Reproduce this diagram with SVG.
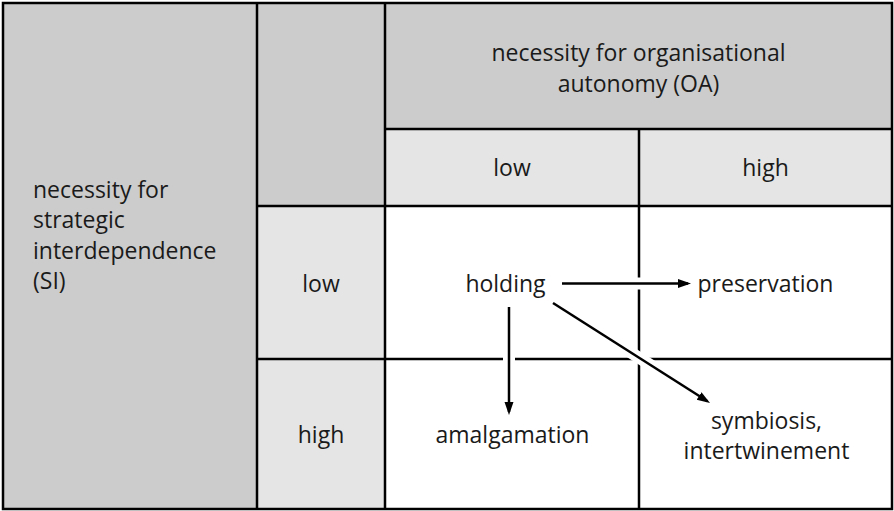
<svg xmlns="http://www.w3.org/2000/svg" width="894" height="511" viewBox="0 0 894 511">
<style>
text{font-family:"Open Sans","Noto Sans","DejaVu Sans",sans-serif;font-size:23px;fill:#1a1a1a}
.c{text-anchor:middle}
.dark{fill:#cccccc}
.light{fill:#e5e5e5}
.white{fill:#ffffff}
.grid{stroke:#000;stroke-width:2.5;fill:none}
.halo{stroke:#fff;stroke-width:12;fill:none}
.arr{stroke:#000;stroke-width:2.5;fill:none;marker-end:url(#ah)}
</style>
<defs>
<marker id="ah" markerUnits="userSpaceOnUse" markerWidth="14" markerHeight="10" refX="10" refY="4.5" orient="auto">
<path d="M0,0 L13,4.5 L0,9 z" fill="#000"/>
</marker>
</defs>
<rect x="0" y="0" width="894" height="511" fill="#fff"/>
<g id="si-label">
<rect class="dark" x="3" y="3" width="254" height="506"/>
<text x="33" y="198">necessity for</text>
<text x="33" y="228">strategic</text>
<text x="33" y="259">interdependence</text>
<text x="33" y="289">(SI)</text>
</g>
<g id="corner"><rect class="dark" x="257" y="3" width="128" height="203"/></g>
<g id="oa-label">
<rect class="dark" x="385" y="3" width="507" height="126"/>
<text class="c" x="638.5" y="61">necessity for organisational</text>
<text class="c" x="638.5" y="92">autonomy (OA)</text>
</g>
<g id="col-low"><rect class="light" x="385" y="129" width="254" height="77"/><text class="c" x="512" y="176">low</text></g>
<g id="col-high"><rect class="light" x="639" y="129" width="253" height="77"/><text class="c" x="765.5" y="176">high</text></g>
<g id="row-low"><rect class="light" x="257" y="206" width="128" height="153"/><text class="c" x="321" y="292">low</text></g>
<g id="row-high"><rect class="light" x="257" y="359" width="128" height="150"/><text class="c" x="321" y="443">high</text></g>
<g id="cell-ll"><rect class="white" x="385" y="206" width="254" height="153"/></g>
<g id="cell-lh"><rect class="white" x="639" y="206" width="253" height="153"/></g>
<g id="cell-hl"><rect class="white" x="385" y="359" width="254" height="150"/></g>
<g id="cell-hh"><rect class="white" x="639" y="359" width="253" height="150"/></g>
<g id="grid">
<rect class="grid" x="3" y="3" width="889" height="506"/>
<line class="grid" x1="257" y1="3" x2="257" y2="509"/>
<line class="grid" x1="385" y1="3" x2="385" y2="509"/>
<line class="grid" x1="639" y1="129" x2="639" y2="509"/>
<line class="grid" x1="385" y1="129" x2="892" y2="129"/>
<line class="grid" x1="257" y1="206" x2="892" y2="206"/>
<line class="grid" x1="257" y1="359" x2="892" y2="359"/>
</g>
<g id="holding"><text class="c" x="505.5" y="292">holding</text></g>
<g id="preservation"><text class="c" x="765.5" y="292">preservation</text></g>
<g id="amalgamation"><text class="c" x="512.5" y="443">amalgamation</text></g>
<g id="symbiosis"><text class="c" x="766.5" y="429">symbiosis,</text><text class="c" x="766.5" y="459">intertwinement</text></g>
<g id="connectors">
<line class="halo" x1="562" y1="283.5" x2="680" y2="283.5"/>
<line class="halo" x1="509" y1="307" x2="509" y2="405"/>
<line class="halo" x1="553" y1="303" x2="700" y2="396.5"/>
<line class="arr" x1="562" y1="283.5" x2="688" y2="283.5"/>
<line class="arr" x1="509" y1="307" x2="509" y2="412"/>
<line class="arr" x1="553" y1="303" x2="707.5" y2="401.3"/>
</g>
</svg>
